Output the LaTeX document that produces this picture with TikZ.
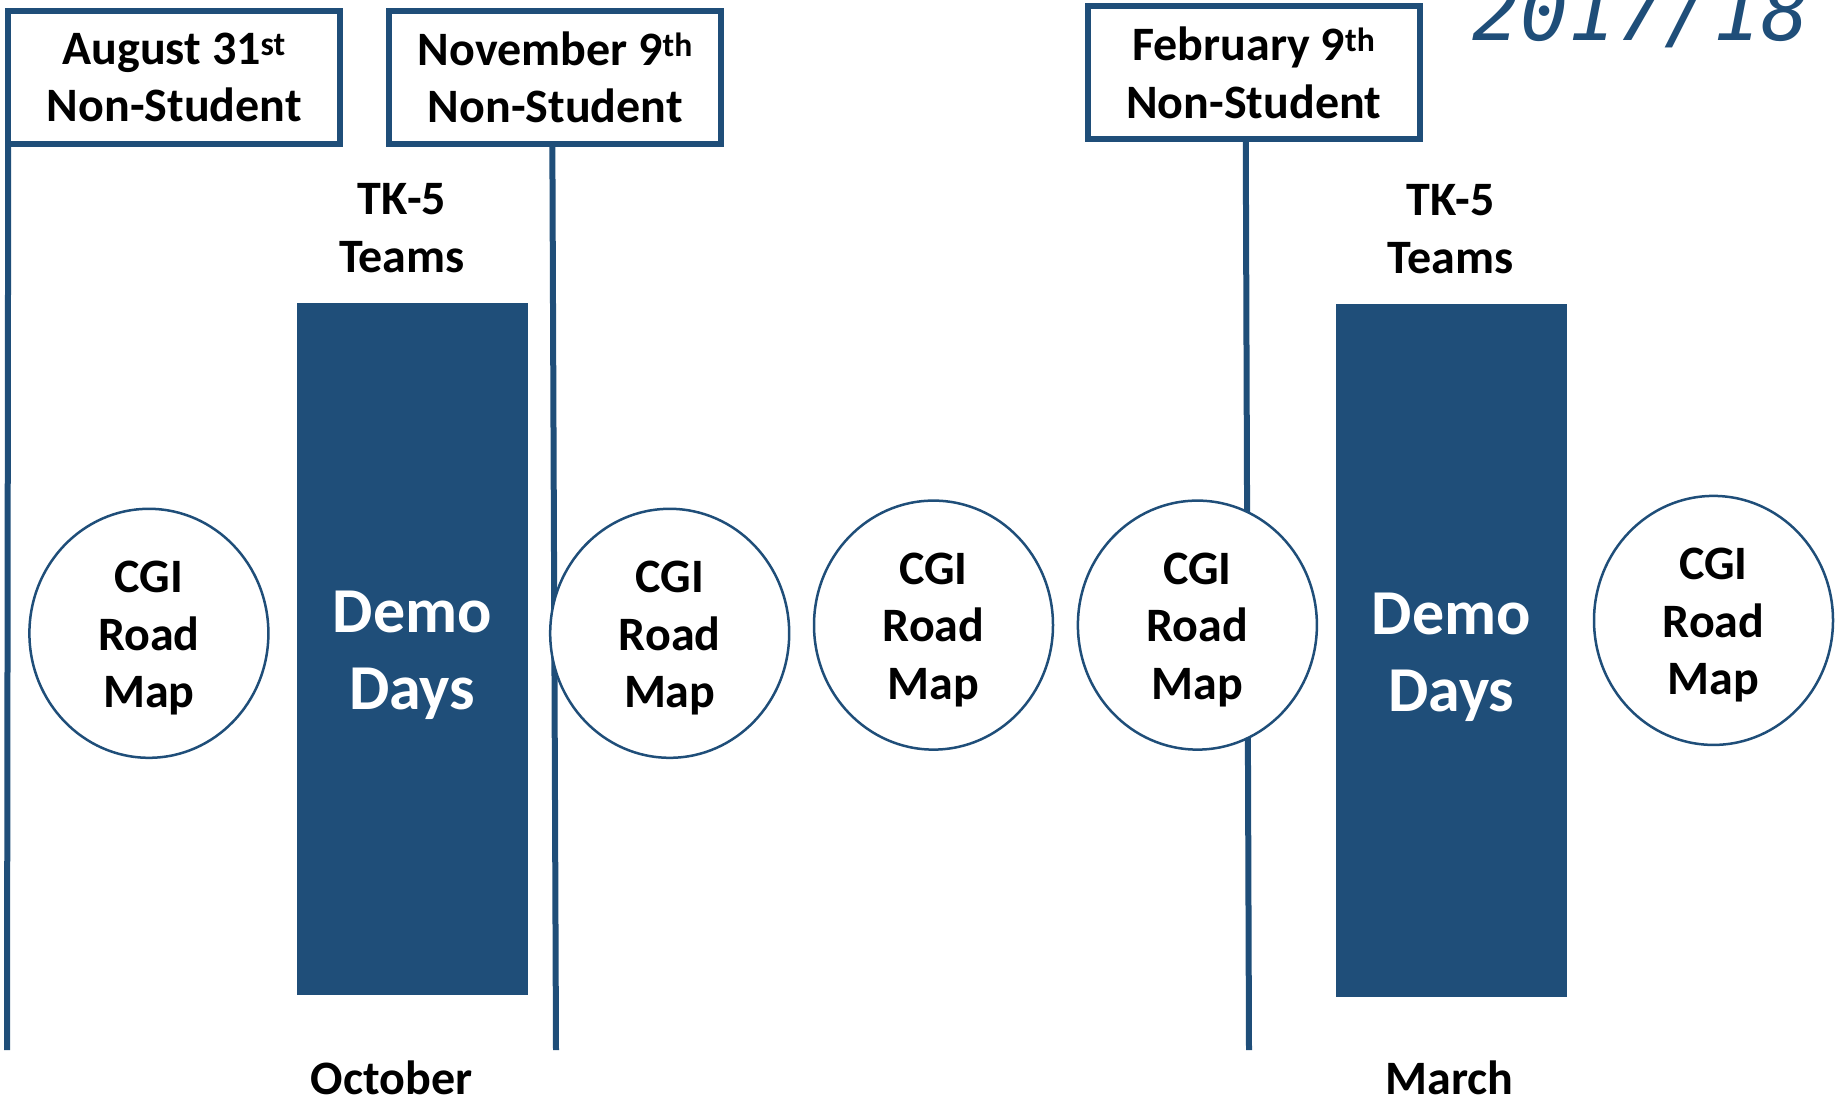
\documentclass[tikz,border=0pt]{standalone}
\usepackage{fontspec}
\usetikzlibrary{shapes.geometric}
\setmainfont{Carlito}
\newfontfamily\yearfont{DejaVu Sans Mono}
\definecolor{navy}{HTML}{1F4E79}
\newcommand{\cgitext}{\rule{0pt}{41pt}CGI\\Road\\Map}
\newcommand{\demotext}{\rule{0pt}{55pt}Demo\\Days}
\begin{document}
\begin{tikzpicture}[x=1pt,y=-1pt,
  lbl/.style={font=\fontsize{48}{57.5}\selectfont\bfseries, align=center, inner sep=0},
  datebox/.style={draw=navy, line width=6, fill=white, minimum width=332, minimum height=132.5, inner sep=0, outer sep=0, lbl},
  demobox/.style={fill=navy, minimum width=231, minimum height=692, inner sep=0, text=white, font=\fontsize{64}{77.5}\selectfont\bfseries, align=center},
  roadmap/.style={ellipse, draw=navy, line width=2.5, fill=white, minimum width=239, minimum height=249, inner sep=0, lbl},
  timeline/.style={draw=navy, line width=6}]
\useasboundingbox (0,0) rectangle (1839,1098);
\clip (0,0) rectangle (1839,1098);
% year
\node[anchor=base west, inner sep=0, text=navy, font=\yearfont\itshape\fontsize{80}{90}\selectfont] (year) at (1472,40) {2017/18};
% date boxes
\node[datebox] (b1) at (174.2,77.4) {August 31\textsuperscript{st}\\Non-Student};
\node[datebox] (b2) at (555.35,77.4) {November 9\textsuperscript{th}\\Non-Student};
\node[datebox] (b3) at (1253.75,72.7) {February 9\textsuperscript{th}\\Non-Student};
% timeline ends
\coordinate (e1) at (7,1050);
\coordinate (e2) at (556,1050);
\coordinate (e3) at (1249,1050);
\draw[timeline] (b1.south west) -- (e1);
\draw[timeline] (b2.south) ++(-3,0) -- (e2);
\draw[timeline] (b3.south) ++(-8,0) -- (e3);
% demo days
\node[demobox] (d1) at (412.25,648.5) {\demotext};
\node[demobox, minimum height=693] (d2) at (1451.35,650.3) {\demotext};
\node[lbl] (t1) at (402,228) {TK-5\\Teams};
\node[lbl] (t2) at (1450.7,229) {TK-5\\Teams};
% road maps
\node[roadmap] (c1) at (148.9,633.3) {\cgitext};
\node[roadmap] (c2) at (669.7,633.3) {\cgitext};
\node[roadmap] (c3) at (933.5,625.1) {\cgitext};
\node[roadmap] (c4) at (1197.4,625.1) {\cgitext};
\node[roadmap] (c5) at (1713.5,620.4) {\cgitext};
% months
\node[lbl] (m1) at (391.7,1078) {October};
\node[lbl] (m2) at (1449.6,1078) {March};
\end{tikzpicture}
\end{document}
